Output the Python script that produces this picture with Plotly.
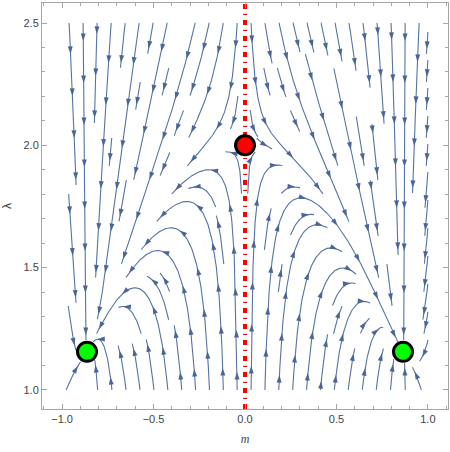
import numpy as np
import plotly.graph_objects as go

# ---- data ----
M_RANGE = [-1.0, 1.0]          # stream region, m
L_RANGE = [1.0, 2.5]           # stream region, lambda
FIXED_M = [0.0, -0.864, 0.864]
FIXED_L = [2.0, 1.156, 1.156]
FIXED_COLORS = ["#ff0000", "#00ff00", "#00ff00"]
X_TICKS = [-1.0, -0.5, 0.0, 0.5, 1.0]
X_TICKTEXT = ["\u22121.0", "\u22120.5", "0.0", "0.5", "1.0"]
Y_TICKS = [1.0, 1.5, 2.0, 2.5]
Y_TICKTEXT = ["1.0", "1.5", "2.0", "2.5"]
X_VIEW = [-1.11, 1.11]
Y_VIEW = [0.922, 2.582]

# vector field coefficients
FA, FB, FK = 0.38, 1.24, 1.25
GA, GB = 2.68, 1.84


def field(m, l):
    f = FA * m * (0.75 - m ** 2) * l ** FK / (1 + FB * m ** 2)
    g = 2.0 - l - GA * m ** 2 / (1 + GB * m ** 2)
    return f, g


# pixel scale of plot area
PW, PH = 406.0, 406.0
SX = PW / (X_VIEW[1] - X_VIEW[0])
SY = PH / (Y_VIEW[1] - Y_VIEW[0])
W = (M_RANGE[1] - M_RANGE[0]) * SX
H = (L_RANGE[1] - L_RANGE[0]) * SY


def to_data(x, y):
    return x / SX + M_RANGE[0], y / SY + L_RANGE[0]


def vel(x, y):
    m, l = to_data(x, y)
    f, g = field(m, l)
    u, v = f * SX, g * SY
    s = np.hypot(u, v)
    if s < 1e-12:
        return 0.0, 0.0, 0.0
    return u / s, v / s, s


FP_PX = [((fm - M_RANGE[0]) * SX, (fl - L_RANGE[0]) * SY) for fm, fl in zip(FIXED_M, FIXED_L)]

CS = 14.0
NX = int(np.ceil(W / CS))
NY = int(np.ceil(H / CS))
mask = np.zeros((NX, NY), dtype=int)


def cell(x, y):
    return (min(NX - 1, max(0, int(x / CS))), min(NY - 1, max(0, int(y / CS))))


def integrate(x0, y0, d, owned):
    pts = [(x0, y0)]
    x, y = x0, y0
    cur = cell(x, y)
    h = 1.0
    for _ in range(3000):
        u1, v1, s1 = vel(x, y)
        if s1 == 0:
            break
        xm, ym = x + 0.5 * h * d * u1, y + 0.5 * h * d * v1
        u2, v2, s2 = vel(xm, ym)
        if s2 == 0:
            break
        xn, yn = x + h * d * u2, y + h * d * v2
        if xn < 0 or xn > W or yn < 0 or yn > H:
            xn = min(W, max(0, xn)); yn = min(H, max(0, yn))
            pts.append((xn, yn))
            break
        near = False
        for fx, fy in FP_PX:
            if np.hypot(xn - fx, yn - fy) < 11:
                near = True
        if near:
            break
        c = cell(xn, yn)
        if c != cur:
            if mask[c]:
                break
            mask[c] = 1
            owned.append(c)
            cur = c
        pts.append((xn, yn))
        x, y = xn, yn
    return pts


def ring_order(nx, ny):
    out = []
    x0, y0, x1, y1 = 0, 0, nx - 1, ny - 1
    while x0 <= x1 and y0 <= y1:
        for i in range(x0, x1 + 1):
            out.append((i, y0))
        for j in range(y0 + 1, y1 + 1):
            out.append((x1, j))
        if y1 > y0:
            for i in range(x1 - 1, x0 - 1, -1):
                out.append((i, y1))
        if x1 > x0:
            for j in range(y1 - 1, y0, -1):
                out.append((x0, j))
        x0 += 1; y0 += 1; x1 -= 1; y1 -= 1
    return out


lines = []
for (i, j) in ring_order(NX, NY):
    if mask[i, j]:
        continue
    x0 = min(W, (i + 0.5) * CS)
    y0 = min(H, (j + 0.5) * CS)
    mask[i, j] = 1
    owned = [(i, j)]
    back = integrate(x0, y0, -1, owned)
    fwd = integrate(x0, y0, 1, owned)
    pts = back[::-1] + fwd[1:]
    arr = np.array(pts)
    if len(arr) < 2:
        for c in owned:
            mask[c] = 0
        continue
    seg = np.hypot(np.diff(arr[:, 0]), np.diff(arr[:, 1]))
    if seg.sum() < 18:
        for c in owned:
            mask[c] = 0
        continue
    lines.append(arr)

# build traces
lx, ly = [], []
ax_, ay_, ang = [], [], []
SPACING = 42.0
for arr in lines:
    m, l = to_data(arr[:, 0], arr[:, 1])
    lx += list(m) + [None]
    ly += list(l) + [None]
    seg = np.hypot(np.diff(arr[:, 0]), np.diff(arr[:, 1]))
    cum = np.concatenate([[0], np.cumsum(seg)])
    L = cum[-1]
    s = L - 1.0
    while s > 10:
        sc = s - 4.0
        k = np.searchsorted(cum, sc)
        k = min(max(k, 1), len(cum) - 1)
        t = (sc - cum[k - 1]) / max(seg[k - 1], 1e-9)
        px = arr[k - 1] + t * (arr[k] - arr[k - 1])
        dx, dy = arr[k] - arr[k - 1]
        pm, pl = to_data(px[0], px[1])
        ax_.append(pm); ay_.append(pl)
        ang.append(np.degrees(np.arctan2(dx, dy)))
        s -= SPACING

LINE_COLOR = "#5573a3"
fig = go.Figure()
fig.add_trace(go.Scatter(x=lx, y=ly, mode="lines", line=dict(color=LINE_COLOR, width=1.1),
                         hoverinfo="skip", showlegend=False))
fig.add_trace(go.Scatter(x=ax_, y=ay_, mode="markers",
                         marker=dict(symbol="arrow", size=8, angle=ang, color="#4a6696",
                                     line=dict(width=0)),
                         hoverinfo="skip", showlegend=False))
fig.add_trace(go.Scatter(x=[0, 0], y=Y_VIEW, mode="lines",
                         line=dict(color="#ff0000", width=4, dash="5px,5px,1px,5px"),
                         hoverinfo="skip", showlegend=False))
fig.add_trace(go.Scatter(x=FIXED_M, y=FIXED_L, mode="markers",
                         marker=dict(size=19, color=FIXED_COLORS, line=dict(color="black", width=3)),
                         showlegend=False))

axis_common = dict(showgrid=False, zeroline=False, showline=True, linecolor="#a6a6a6", linewidth=1,
                   mirror="allticks", ticks="inside", ticklen=5, tickcolor="#a6a6a6", tickwidth=1,
                   automargin=False,
                   tickfont=dict(family="Liberation Sans, Arial, sans-serif", size=11, color="#444444"),
                   minor=dict(ticks="inside", ticklen=3, tickcolor="#a6a6a6", dtick=0.1, showgrid=False))
fig.update_layout(
    width=450, height=452, margin=dict(l=42, r=2, t=3, b=43),
    paper_bgcolor="white", plot_bgcolor="white",
    xaxis=dict(range=X_VIEW, tickvals=X_TICKS, ticktext=X_TICKTEXT,
               title=dict(text="<i>m</i>", standoff=10,
                          font=dict(family="Liberation Serif, serif", size=12, color="#444444")),
               **axis_common),
    yaxis=dict(range=Y_VIEW, tickvals=Y_TICKS, ticktext=Y_TICKTEXT,
               title=dict(text="\u03bb", standoff=12,
                          font=dict(family="Liberation Sans, sans-serif", size=12, color="#444444")),
               **axis_common),
)
fig.write_html("out.html", config={"displayModeBar": False},
               post_script="document.body.style.margin='0';")
